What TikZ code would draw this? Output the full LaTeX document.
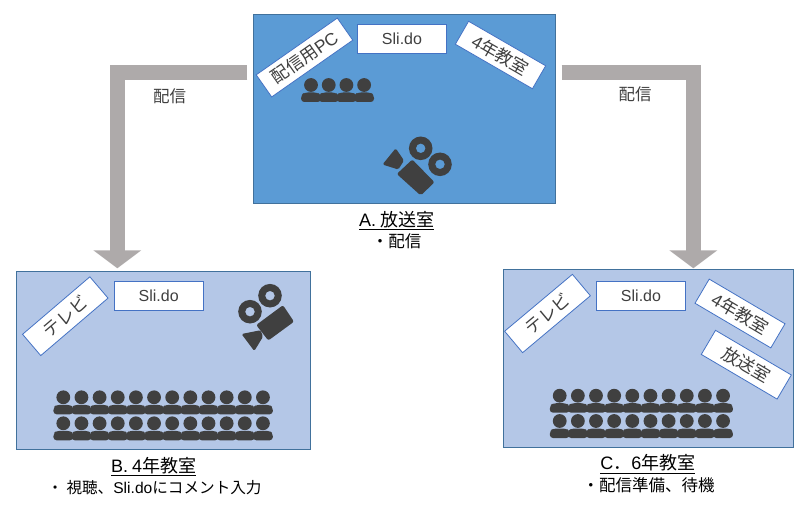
\documentclass[tikz,border=0pt]{standalone}
\usepackage{fontspec}
\setmainfont{Noto Sans CJK JP}
\newfontfamily\lat{Liberation Sans}
\usetikzlibrary{calc,arrows.meta}
\definecolor{roomA}{HTML}{5B9BD5}
\definecolor{roomB}{HTML}{B4C7E7}
\definecolor{edgeR}{HTML}{41719C}
\definecolor{cardE}{HTML}{4472C4}
\definecolor{ink}{HTML}{404040}
\definecolor{flow}{HTML}{AEAAAA}
\tikzset{
  roomA/.style={draw=edgeR,line width=0.9pt,fill=roomA,minimum width=302pt,minimum height=189pt,inner sep=0pt},
  roomB/.style={draw=edgeR,line width=0.9pt,fill=roomB,inner sep=0pt},
  card/.style={draw=cardE,line width=0.8pt,fill=white,inner sep=0pt,text=ink,font=\fontsize{17.5}{19}\selectfont},
  slido/.style={card,minimum width=89pt,minimum height=29pt,font=\lat\fontsize{16}{18}\selectfont},
  flowarrow/.style={draw=flow,line width=15.5pt,-{Triangle[length=18pt,width=47pt]}},
  flowlabel/.style={inner sep=0pt,text=ink,font=\fontsize{16.5}{18}\selectfont},
  title/.style={inner sep=0pt,text=black,font=\fontsize{18}{20}\selectfont},
  caption/.style={inner sep=0pt,text=black,font=\fontsize{16.5}{18}\selectfont},
}
\newcommand{\person}[2]{%
  \fill[ink] (#1,#2-7) circle[radius=6.9pt];
  \fill[ink,rounded corners=3.2pt] (#1-9.9,#2+10) -- (#1-9.9,#2+3) -- (#1-6.5,#2+0.5) -- (#1+6.5,#2+0.5) -- (#1+9.9,#2+3) -- (#1+9.9,#2+10) -- cycle;
}
\newcommand{\reel}[2]{\fill[ink,even odd rule] (#1,#2) circle[radius=11.8pt] (#1,#2) circle[radius=4.8pt];}
\begin{document}
\begin{tikzpicture}[x=1pt,y=-1pt]
\useasboundingbox (0,0) rectangle (810,505);
\fill[white] (0,0) rectangle (810,505);
% rooms
\node[roomA,anchor=north west] (A) at (253,14) {};
\node[roomB,anchor=north west,minimum width=294pt,minimum height=178pt] (B) at (16,271) {};
\node[roomB,anchor=north west,minimum width=290pt,minimum height=178pt] (C) at (502.5,269) {};
% arrows
\coordinate (La) at ($(A.north west)+(-5.7,58.6)$);
\coordinate (Le) at ($(B.north west)+(101.3,-2.7)$);
\coordinate (Ra) at ($(A.north east)+(5.7,58.6)$);
\coordinate (Re) at ($(C.north west)+(190.8,-0.7)$);
\draw[flowarrow] (La) -| (Le);
\draw[flowarrow] (Ra) -| (Re);
\node[flowlabel] (fl) at (169.5,96) {配信};
\node[flowlabel] (fr) at (635,94) {配信};
% room A
\node[slido] (aS) at (402,39) {Sli.do};
\node[card,rotate=35,minimum width=99pt,minimum height=27pt] (aP) at (304.5,57.5) {配信用\lat PC};
\node[card,rotate=-30,minimum width=89pt,minimum height=26.5pt] (a4) at (500.5,55) {{\lat 4}年教室};
\foreach \i in {0,1,2,3} {\pgfmathsetmacro{\px}{311+17.7*\i}\person{\px}{92}}
\fill[ink,rounded corners=2pt] (412.3,159.5) -- (434.5,182.3) -- (420.7,195.5) -- (396.8,174) -- cycle;
\fill[ink,rounded corners=1.5pt] (382.5,164.5) -- (395.7,148.3) -- (404,160.5) -- (398.3,169.5) -- cycle;
\reel{420.7}{148.3}
\reel{440}{164.3}
\node[title] (aT) at (396.7,220.7) {\underline{{\lat A.}\hspace{4pt}放送室}};
\node[caption] (aC) at (396.7,241.7) {・配信};
% room B
\node[slido] (bS) at (158.7,296.2) {Sli.do};
\node[card,rotate=40.5,minimum width=88.5pt,minimum height=28pt] (bT) at (65.3,316.2) {テレビ};
\fill[ink,rounded corners=2pt] (283,305.2) -- (294,321.7) -- (268.3,340.5) -- (256.2,325) -- cycle;
\fill[ink,rounded corners=1.5pt] (241.5,334) -- (260.5,330.2) -- (263,336.7) -- (254.3,351) -- cycle;
\reel{270}{295.7}
\reel{250}{311.7}
\foreach \i in {0,...,11} {\pgfmathsetmacro{\px}{63.3+18.15*\i}\person{\px}{404.3}\person{\px}{430.3}}
\node[title] (bH) at (153.7,466.7) {\underline{{\lat B.}\hspace{4pt}{\lat 4}年教室}};
\node[caption,font=\fontsize{15.6}{18}\selectfont] (bC) at (154.5,488) {・ 視聴、{\lat Sli.do}にコメント入力};
% room C
\node[slido] (cS) at (641,296.2) {Sli.do};
\node[card,rotate=40,minimum width=88.5pt,minimum height=28pt] (cT) at (547.5,313.5) {テレビ};
\node[card,rotate=-30.5,minimum width=88pt,minimum height=28pt] (c4) at (740,313.5) {{\lat 4}年教室};
\node[card,rotate=-30.5,minimum width=88pt,minimum height=28pt] (c5) at (746.3,364.7) {放送室};
\foreach \i in {0,...,9} {\pgfmathsetmacro{\px}{559.7+18.15*\i}\person{\px}{402.7}\person{\px}{428}}
\node[title] (cH) at (647.8,464) {\underline{{\lat C}．{\lat 6}年教室}};
\node[caption] (cC) at (648.5,485) {・配信準備、待機};
\end{tikzpicture}
\end{document}
